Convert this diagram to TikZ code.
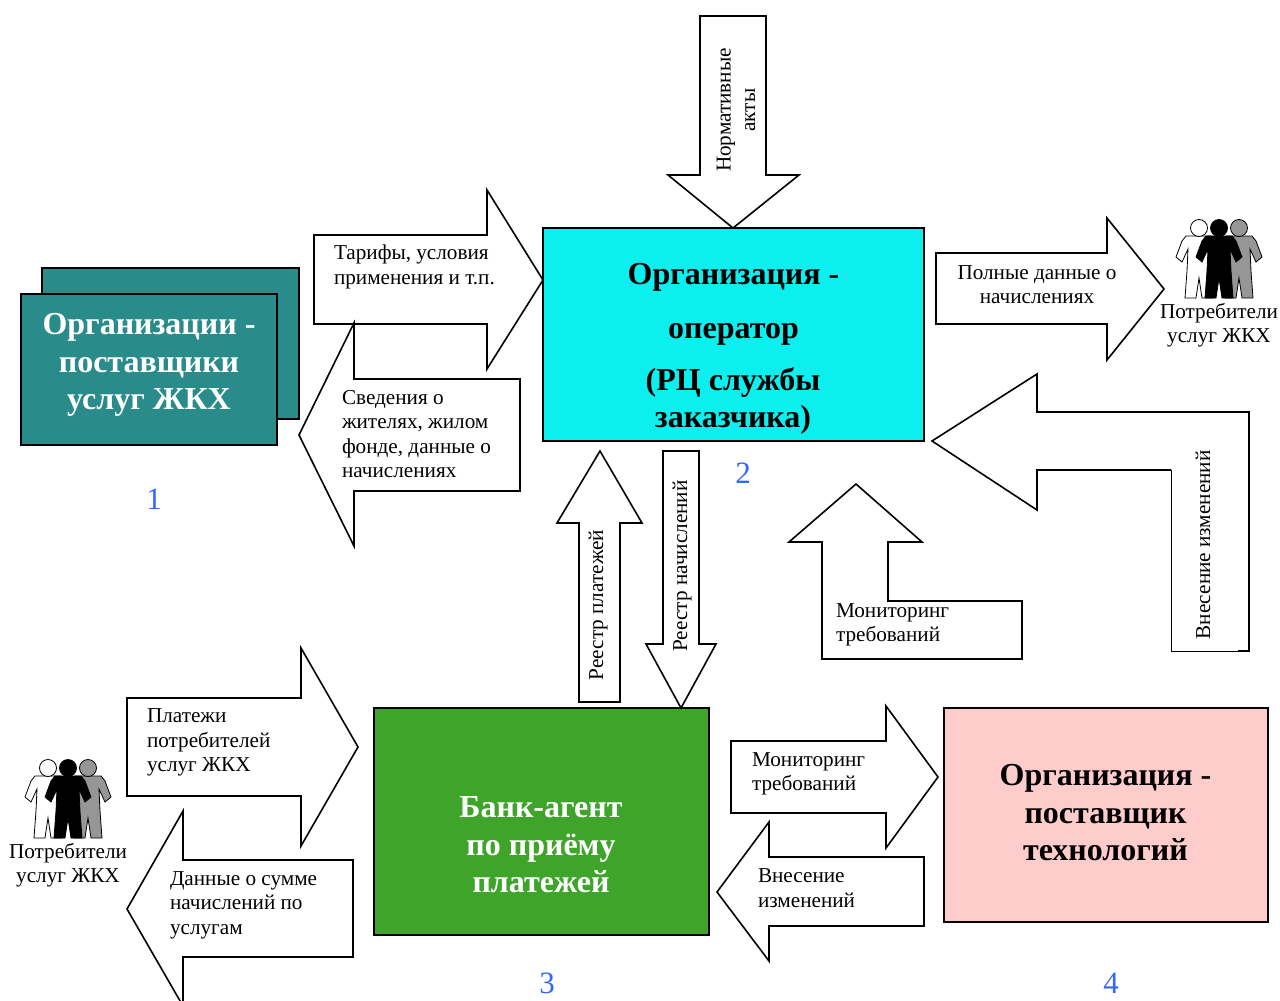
\documentclass[tikz,border=0pt]{standalone}
\usepackage{fontspec}
\setmainfont{Liberation Serif}
\definecolor{tealbox}{HTML}{2A8C8A}
\definecolor{cyanbox}{HTML}{0BEFEF}
\definecolor{greenbox}{HTML}{3FA52A}
\definecolor{pinkbox}{HTML}{FFCCCC}
\definecolor{numblue}{HTML}{3366FF}
\definecolor{figgray}{HTML}{969696}
\newcommand{\figbody}{(0,8) -- (13,8) -- (17,13) -- (23,29) -- (17,34) -- (11,21) -- (12,43) -- (14,70) -- (3,70) -- (0,50) -- (-3,70) -- (-14,70) -- (-12,43) -- (-11,21) -- (-17,34) -- (-23,29) -- (-17,13) -- (-13,8) -- cycle}
\begin{document}
\begin{tikzpicture}[x=1pt, y=-1pt, line join=miter,
    every node/.style={inner sep=0pt, outer sep=0pt},
    orgbox/.style={draw=black, line width=1.6pt},
    blockarrow/.style={draw=black, line width=1.6pt, fill=white},
    arrowtext/.style={font=\fontsize{21.2}{24.5}\selectfont, align=left, anchor=west},
    sidetext/.style={font=\fontsize{21.2}{24.5}\selectfont, align=center, rotate=90},
    peopletext/.style={font=\fontsize{21.2}{24.5}\selectfont, align=center},
    orgtext/.style={font=\bfseries\fontsize{32}{37.5}\selectfont, align=center},
    numtext/.style={font=\fontsize{31}{34}\selectfont, text=numblue},
    figline/.style={draw=black, line width=0.8pt},
    pics/people/.style={code={
        \foreach \dx/\col in {-20/white, 20/figgray, 0/black} {
            \begin{scope}[xshift=\dx pt]
                \filldraw[figline, fill=\col] \figbody;
                \filldraw[figline, fill=\col] (0,0) circle (8.5);
            \end{scope}
        }
    }}]
    \useasboundingbox (0,0) rectangle (1280,1001);
    \fill[white] (0,0) rectangle (1280,1001);

    % Organisations
    \draw[orgbox, fill=tealbox] (42,268) rectangle (299,419);
    \node[orgbox, fill=tealbox, minimum width=256pt, minimum height=151pt, anchor=north west] (Supplier) at (21,294) {};
    \node[orgbox, fill=cyanbox, minimum width=381pt, minimum height=213pt, anchor=north west] (Operator) at (543,228) {};
    \node[orgbox, fill=greenbox, minimum width=335pt, minimum height=227pt, anchor=north west] (Bank) at (374,708) {};
    \node[orgbox, fill=pinkbox, minimum width=324pt, minimum height=214pt, anchor=north west] (Tech) at (944,708) {};

    \node[orgtext, text=white] (SupplierText) at (149,365) {Организации -\\поставщики\\услуг ЖКХ};
    \node[orgtext] (OperatorText) at (733.5,277) {Организация -};
    \node[orgtext] (OperatorTextB) at (733.5,334) {оператор};
    \node[orgtext] (OperatorTextC) at (733,401) {(РЦ службы\\заказчика)};
    \node[orgtext, text=white] (BankText) at (541,845) {Банк-агент\\по приёму\\платежей};
    \node[orgtext] (TechText) at (1105.5,813) {Организация -\\поставщик\\технологий};

    % Numbers
    \foreach \x/\y/\name in {154/499/1, 743/473/2, 547/983/3, 1111/983/4} {
        \node[numtext] (Num\name) at (\x,\y) {\name};
    }

    % Block arrows
    \draw[blockarrow] (700,16) -- (766,16) -- (766,175) -- (799,175) -- (733,228) -- (668,175) -- (700,175) -- cycle;
    \draw[blockarrow] (314,235) -- (487,235) -- (487,190) -- (543,280) -- (487,369) -- (487,324) -- (314,324) -- cycle;
    \draw[blockarrow] (520,379) -- (354,379) -- (354,323) -- (299,435) -- (354,546) -- (354,491) -- (520,491) -- cycle;
    \draw[blockarrow] (936,253) -- (1107,253) -- (1107,218) -- (1164,289) -- (1107,360) -- (1107,324) -- (936,324) -- cycle;
    \draw[blockarrow] (856,484) -- (922,542) -- (888,542) -- (888,601) -- (1022,601) -- (1022,659) -- (822,659) -- (822,542) -- (789,542) -- cycle;
    \draw[blockarrow] (600,451) -- (642,523) -- (620,523) -- (620,702) -- (579,702) -- (579,523) -- (557,523) -- cycle;
    \draw[blockarrow] (663,451) -- (699,451) -- (699,644) -- (716,644) -- (681,708) -- (646,644) -- (663,644) -- cycle;
    \draw[blockarrow] (127,698) -- (301,698) -- (301,648) -- (358,747) -- (301,846) -- (301,796) -- (127,796) -- cycle;
    \draw[blockarrow] (353,860) -- (183,860) -- (183,811) -- (127,909) -- (183,1006) -- (183,957) -- (353,957) -- cycle;
    \draw[blockarrow] (731,741) -- (886,741) -- (886,706) -- (938,777) -- (886,848) -- (886,813) -- (731,813) -- cycle;
    \draw[blockarrow] (924,857) -- (769,857) -- (769,822) -- (717,892) -- (769,961) -- (769,926) -- (924,926) -- cycle;

    % Bent arrow with its thin edges
    \fill[white] (932,441) -- (1037,374) -- (1037,412) -- (1249,412) -- (1249,651) -- (1171,651) -- (1171,470) -- (1037,470) -- (1037,510) -- cycle;
    \draw[line width=1.6pt] (1238,651) -- (1249,651) -- (1249,412) -- (1037,412) -- (1037,374) -- (932,441) -- (1037,510) -- (1037,470) -- (1171,470);
    \draw[line width=0.7pt] (1171,470) -- (1171,651) -- (1238,651);

    % Arrow labels
    \node[sidetext] (Norms) at (736,110) {Нормативные\\акты};
    \node[arrowtext] (Tariffs) at (334,267) {Тарифы, условия\\применения и т.п.};
    \node[arrowtext] (Residents) at (342,434) {Сведения о\\жителях, жилом\\фонде, данные о\\начислениях};
    \node[peopletext] (FullData) at (1037,284.5) {Полные данные о\\начислениях};
    \node[arrowtext] (MonitorUp) at (836,625) {Мониторинг\\требований};
    \node[sidetext] (ChangesUp) at (1203,545) {Внесение изменений};
    \node[sidetext] (PayReg) at (598,605) {Реестр платежей};
    \node[sidetext] (ChargeReg) at (682,566) {Реестр начислений};
    \node[arrowtext] (Payments) at (147,742.5) {Платежи\\потребителей\\услуг ЖКХ};
    \node[arrowtext] (Sums) at (170,905) {Данные о сумме\\начислений по\\услугам};
    \node[arrowtext] (MonitorRight) at (752,774) {Мониторинг\\требований};
    \node[arrowtext] (ChangesLeft) at (758,888) {Внесение\\изменений};

    % Consumers
    \pic (PeopleTop) at (1219,228) {people};
    \pic (PeopleBottom) at (68,768) {people};
    \node[peopletext] (ConsumersTop) at (1219,325) {Потребители\\услуг ЖКХ};
    \node[peopletext] (ConsumersBottom) at (68,865) {Потребители\\услуг ЖКХ};

\end{tikzpicture}
\end{document}
